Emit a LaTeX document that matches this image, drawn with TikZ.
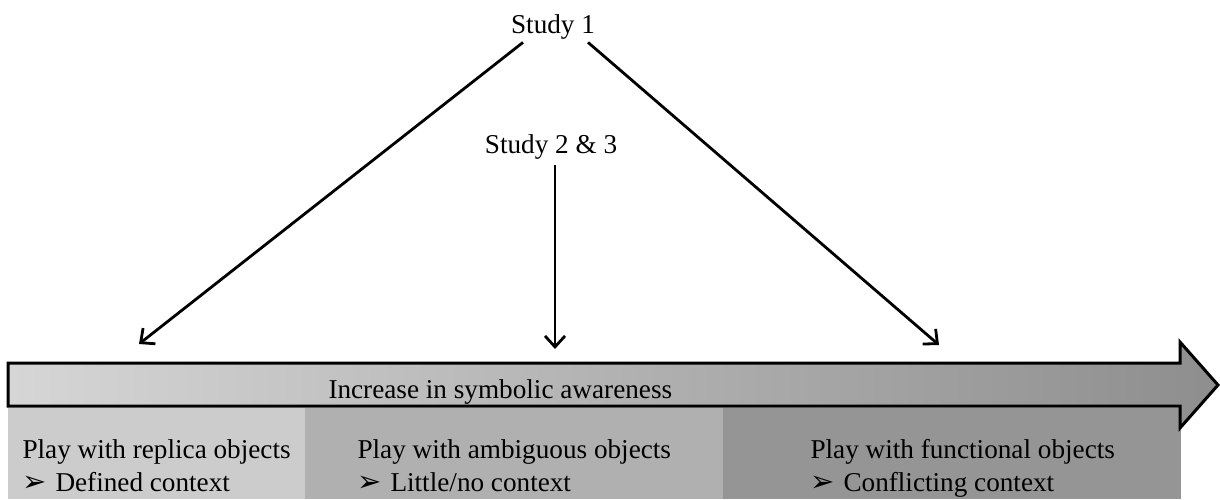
\documentclass[tikz,border=0pt]{standalone}
\usepackage{fontspec}
\setmainfont{Liberation Serif}
\newfontfamily\dejavu{DejaVu Sans}
\usetikzlibrary{arrows.meta}
\definecolor{boxA}{HTML}{CCCCCC}
\definecolor{boxB}{HTML}{B0B0B0}
\definecolor{boxC}{HTML}{959595}
\definecolor{shaftL}{HTML}{D6D6D6}
\definecolor{shaftR}{HTML}{8E8E8E}
\tikzset{
  lbl/.style={font=\fontsize{27.2}{30}\selectfont, inner sep=3.3pt},
  arr/.style={line width=2.8pt, -{Straight Barb[length=11pt,width=20pt,line width=2.8pt]}},
}
\newcommand{\bulmark}{\makebox[33pt][l]{\dejavu\fontsize{29}{32}\selectfont ➢}}
\begin{document}
\begin{tikzpicture}[x=1pt,y=-1pt]
\useasboundingbox (0,0) rectangle (1220,499);
% stage boxes
\fill[boxA] (8,408) rectangle (305,499);
\fill[boxB] (305,408) rectangle (723,499);
\fill[boxC] (723,408) rectangle (1181,499);
% big arrow
\shade[left color=shaftL, right color=shaftR, draw=black, line width=3pt, line join=miter]
  (8,363) -- (1180,363) -- (1180,342) -- (1218,385) -- (1180,428) -- (1180,406) -- (8,406) -- cycle;
\node[lbl, anchor=base west] (inc) at (325,398) {Increase in symbolic awareness};
% stage texts
\node[lbl, anchor=base west] (p1) at (19,458) {Play with replica objects};
\node[lbl, anchor=base west] (c1) at (19,491) {\bulmark Defined context};
\node[lbl, anchor=base west] (p2) at (354,458) {Play with ambiguous objects};
\node[lbl, anchor=base west] (c2) at (354,491) {\bulmark Little/no context};
\node[lbl, anchor=base west] (p3) at (807,458) {Play with functional objects};
\node[lbl, anchor=base west] (c3) at (807,491) {\bulmark Conflicting context};
% studies
\node[lbl, anchor=base] (s1) at (553,33) {Study 1};
\node[lbl, anchor=base] (s2) at (551,153) {Study 2 \& 3};
\coordinate (t1) at (139,344);
\coordinate (t2) at (555,349);
\coordinate (t3) at (939,345);
\draw[arr] ([xshift=-30pt]s1.south) -- (t1);
\draw[arr] ([xshift=35pt]s1.south) -- (t3);
\draw[arr, shorten <=3pt] ([xshift=4pt]s2.south) -- (t2);
\end{tikzpicture}
\end{document}
